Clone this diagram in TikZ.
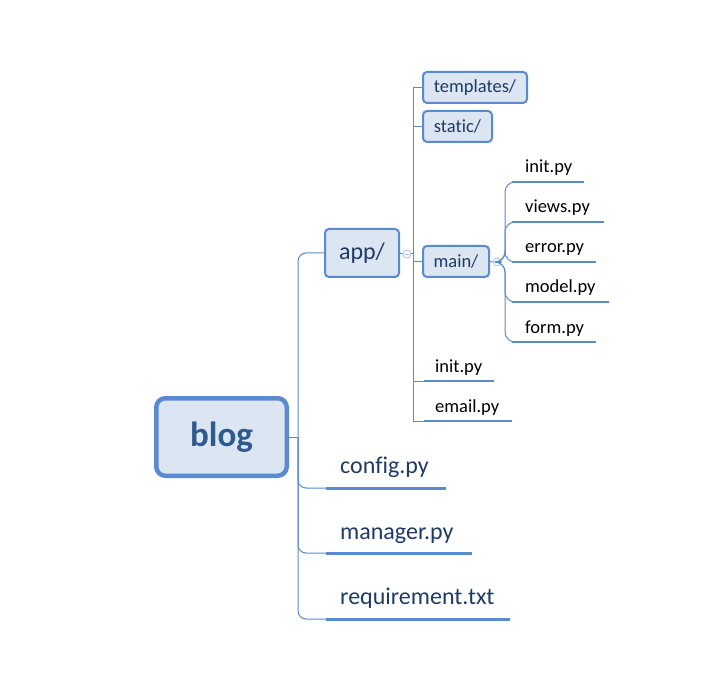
\documentclass[tikz,border=0pt]{standalone}
\usepackage{fontspec}
\setmainfont{Carlito}[Ligatures={NoCommon}]
\usetikzlibrary{calc}
\definecolor{lineblue}{HTML}{5A8AD0}
\definecolor{boxfill}{HTML}{DCE5F2}
\definecolor{navy}{HTML}{1F3A64}
\definecolor{blogtext}{HTML}{2E5A8E}
\definecolor{circ}{HTML}{A9C0E3}
\tikzset{
  conn/.style={draw=lineblue, line width=1pt},
  uline/.style={draw=lineblue, line width=3pt},
  folder/.style={draw=lineblue, fill=boxfill, line width=2pt, rounded corners=4pt, inner sep=0pt, text=navy, font=\fontsize{18.5}{20}\selectfont},
  bigfile/.style={anchor=base west, inner sep=0pt, text=navy, font=\fontsize{24}{26}\selectfont},
  smallfile/.style={anchor=base west, inner sep=0pt, text=black, font=\fontsize{18.5}{20}\selectfont},
  collapse/.style={circle, draw=circ, fill=white, line width=0.8pt, minimum size=8pt, inner sep=0pt},
}
\begin{document}
\begin{tikzpicture}[x=1pt,y=-1pt]
\useasboundingbox (0,0) rectangle (726,687);
% root
\node[draw=lineblue, fill=boxfill, line width=4.5pt, rounded corners=9pt, minimum width=130.5pt, minimum height=77.5pt, inner sep=0pt, text=blogtext, font=\bfseries\fontsize{35}{38}\selectfont] (blog) at (221.5,437) {blog};
\coordinate (t1) at (298,437);
\draw[conn] (blog.east) -- (t1);
% app
\node[folder, minimum width=74pt, minimum height=48pt, font=\fontsize{24}{26}\selectfont] (app) at (362,253) {app/};
\draw[conn, rounded corners=8pt] (t1) |- (app.west);
% big files
\coordinate (cfgA) at (326,488); \coordinate (cfgB) at (446,488);
\coordinate (mgrA) at (326,553); \coordinate (mgrB) at (472,553);
\coordinate (reqA) at (326,619); \coordinate (reqB) at (510,619);
\node[bigfile] (cfg) at (340,473) {config.py};
\node[bigfile] (mgr) at (340,539) {manager.py};
\node[bigfile] (req) at (340,604) {requirement.txt};
\draw[uline] (cfgA) -- (cfgB);
\draw[uline] (mgrA) -- (mgrB);
\draw[uline] (reqA) -- (reqB);
\draw[conn, rounded corners=8pt] (t1) |- (cfgA);
\draw[conn, rounded corners=8pt] (t1) |- (mgrA);
\draw[conn, rounded corners=8pt] (t1) |- (reqA);
% app children
\node[collapse] (c1) at (407,254) {};
\draw[circ, line width=0.7pt] ($(c1.center)+(-2.2,0)$) -- ($(c1.center)+(2.2,0)$);
\draw[conn] (app.east) -- (c1.west);
\coordinate (t2) at (413,254);
\draw[conn] (c1.east) -- (t2);
\node[folder, minimum width=104pt, minimum height=31pt] (tpl) at (475,87.5) {templates/};
\node[folder, minimum width=69pt, minimum height=31pt] (sta) at (457.5,126.5) {static/};
\node[folder, minimum width=66pt, minimum height=31pt] (main) at (456,261.5) {main/};
\draw[conn] (t2) |- (tpl.west);
\draw[conn] (t2) |- (sta.west);
\draw[conn] (413,261.5) -- (main.west);
\coordinate (aiA) at (424,381); \coordinate (aiB) at (494,381);
\coordinate (emA) at (424,421); \coordinate (emB) at (512,421);
\node[smallfile] (ainit) at (435,372) {init.py};
\node[smallfile] (email) at (435,412) {email.py};
\draw[uline, line width=2.5pt] (aiA) -- (aiB);
\draw[uline, line width=2.5pt] (emA) -- (emB);
\draw[conn] (t2) |- (aiA);
\draw[conn] (t2) |- (emA);
% main children
\node[collapse] (c2) at (497,262) {};
\draw[circ, line width=0.7pt] ($(c2.center)+(-2.2,0)$) -- ($(c2.center)+(2.2,0)$);
\draw[conn] (main.east) -- (c2.west);
\coordinate (t3) at (505,262);
\foreach \nm/\txt/\y/\xe in {mi/init.py/182/584, mv/views.py/222/604, me/error.py/262/596, mm/model.py/302/609, mf/form.py/342/596}{
  \coordinate (\nm A) at (512,\y);
  \coordinate (\nm B) at (\xe,\y);
  \node[smallfile] (\nm) at (525,\y-9) {\txt};
  \draw[uline, line width=2.5pt] (\nm A) -- (\nm B);
  \draw[conn, rounded corners=10pt] (c2.east) -- (t3) |- (\nm A);
}
\end{tikzpicture}
\end{document}
